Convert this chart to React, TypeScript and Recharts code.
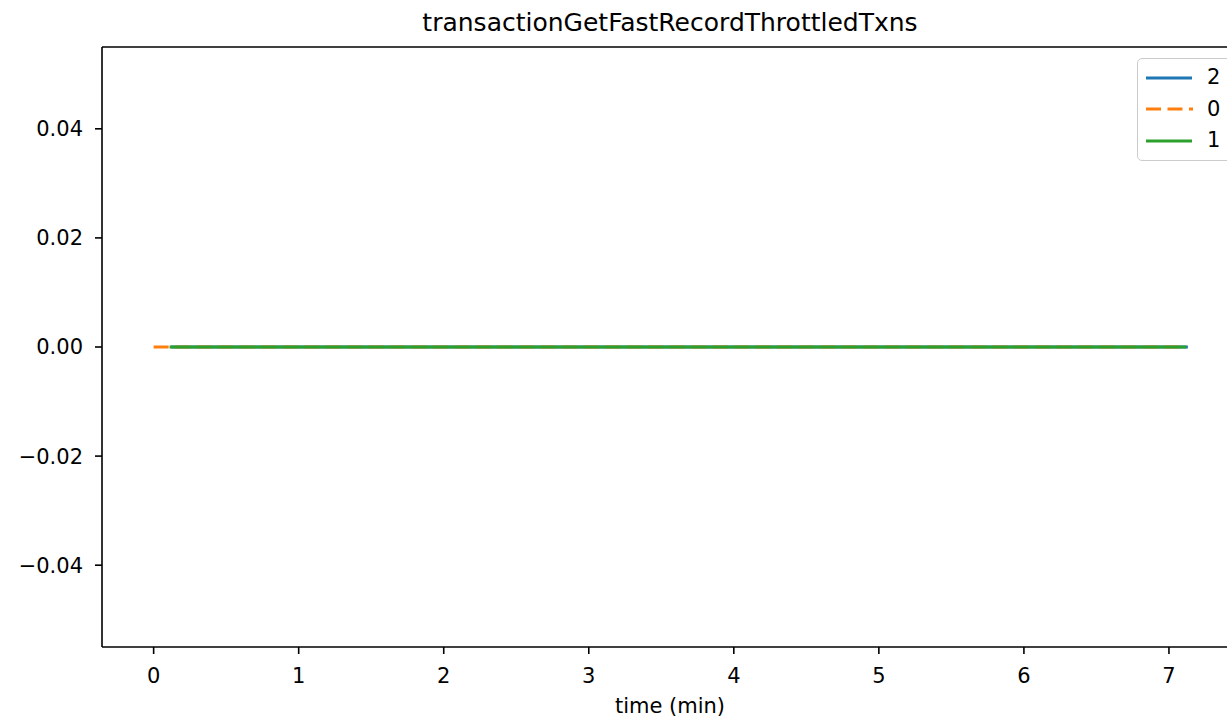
import { Legend, Line, LineChart, ReferenceLine, XAxis, YAxis } from "recharts";

// minutes since start, one list per node
const node2Time = [0.13, 1.0, 2.0, 3.0, 4.0, 5.0, 6.0, 7.12];
const node2Value = [0, 0, 0, 0, 0, 0, 0, 0];
const node0Time = [0.0, 1.0, 2.0, 3.0, 4.0, 5.0, 6.0, 7.08];
const node0Value = [0, 0, 0, 0, 0, 0, 0, 0];
const node1Time = [0.12, 1.0, 2.0, 3.0, 4.0, 5.0, 6.0, 7.11];
const node1Value = [0, 0, 0, 0, 0, 0, 0, 0];

const xTicks = [0, 1, 2, 3, 4, 5, 6, 7];
const yTicks = [-0.04, -0.02, 0, 0.02, 0.04];
const legendOrder = ["2", "0", "1"];

const TITLE = "transactionGetFastRecordThrottledTxns";
const FONT = "'DejaVu Sans', sans-serif";
const Y_MAX = 0.055;

const toRows = (ts: number[], vs: number[]) => ts.map((t, i) => ({ t, v: vs[i] }));

const fmtY = (v: number) => {
  const s = Math.abs(v).toFixed(2);
  return v < 0 ? `\u2212${s}` : s;
};

function LegendBox(props: any) {
  const items = [...(props.payload ?? [])].sort(
    (a: any, b: any) => legendOrder.indexOf(String(a.value)) - legendOrder.indexOf(String(b.value))
  );
  return (
    <div
      style={{
        border: "1.6px solid #cccccc",
        borderRadius: 5,
        background: "rgba(255,255,255,0.8)",
        padding: "3px 0 3px 7px",
        width: 110,
        fontFamily: FONT,
        fontSize: 21,
        textAlign: "left",
      }}
    >
      {items.map((it: any) => (
        <div key={it.value} style={{ display: "flex", alignItems: "center", height: 31.5 }}>
          <svg width={48} height={10} style={{ display: "block" }}>
            <line
              x1={1}
              x2={it.payload?.strokeDasharray ? 48 : 47}
              y1={5}
              y2={5}
              stroke={it.color}
              strokeWidth={3}
              strokeDasharray={it.payload?.strokeDasharray}
            />
          </svg>
          <span style={{ marginLeft: 14, lineHeight: 1 }}>{it.value}</span>
        </div>
      ))}
    </div>
  );
}

export default function App() {
  return (
    <div
      style={{
        position: "absolute",
        left: 0,
        top: 0,
        width: 1227,
        height: 721,
        overflow: "hidden",
        background: "#fff",
      }}
    >
      <div
        style={{
          position: "absolute",
          left: 0,
          top: 9,
          width: 1340,
          textAlign: "center",
          fontFamily: FONT,
          fontSize: 25,
          lineHeight: "28px",
          color: "#000",
        }}
      >
        {TITLE}
      </div>
      <LineChart
        width={1260}
        height={721}
        margin={{ top: 47, right: 22, bottom: 34, left: 0 }}
        style={{ fontFamily: FONT }}
      >
        <XAxis
          type="number"
          dataKey="t"
          domain={[-0.356, 7.476]}
          allowDataOverflow
          ticks={xTicks}
          interval={0}
          height={40}
          tickSize={7}
          tickMargin={14}
          tick={{ fill: "#000", fontSize: 21 }}
          tickLine={{ stroke: "#000", strokeWidth: 1.6 }}
          axisLine={{ stroke: "#000", strokeWidth: 1.6 }}
          label={{ value: "time (min)", position: "bottom", offset: 11, fill: "#000", fontSize: 21 }}
        />
        <YAxis
          type="number"
          domain={[-Y_MAX, Y_MAX]}
          allowDataOverflow
          ticks={yTicks}
          interval={0}
          width={102}
          tickSize={7}
          tickMargin={12}
          tickFormatter={fmtY}
          tick={{ fill: "#000", fontSize: 21 }}
          tickLine={{ stroke: "#000", strokeWidth: 1.6 }}
          axisLine={{ stroke: "#000", strokeWidth: 1.6 }}
        />
        <ReferenceLine y={Y_MAX} stroke="#000" strokeWidth={1.6} />
        <Legend
          layout="horizontal"
          verticalAlign="middle"
          align="center"
          content={LegendBox}
          wrapperStyle={{ top: 58, left: 1137, width: 120 }}
        />
        <Line
          name="2"
          data={toRows(node2Time, node2Value)}
          dataKey="v"
          stroke="#1f77b4"
          strokeWidth={3}
          strokeLinecap="square"
          dot={false}
          isAnimationActive={false}
        />
        <Line
          name="0"
          data={toRows(node0Time, node0Value)}
          dataKey="v"
          stroke="#ff7f0e"
          strokeWidth={3}
          strokeDasharray="15 6.5"
          dot={false}
          isAnimationActive={false}
        />
        <Line
          name="1"
          data={toRows(node1Time, node1Value)}
          dataKey="v"
          stroke="#2ca02c"
          strokeWidth={3}
          strokeLinecap="square"
          dot={false}
          isAnimationActive={false}
        />
      </LineChart>
    </div>
  );
}
